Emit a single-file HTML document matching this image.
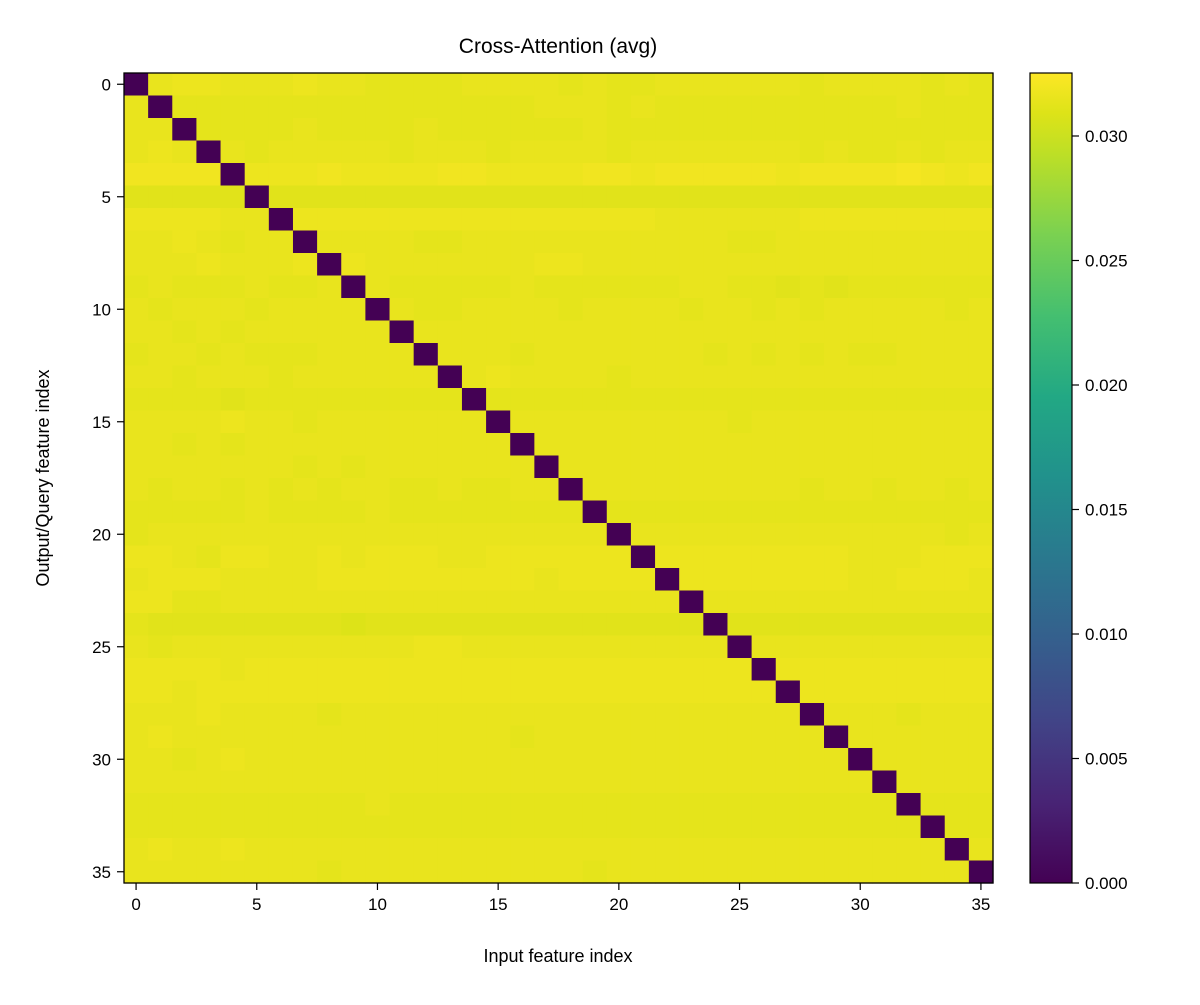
<!DOCTYPE html>
<html><head><meta charset="utf-8"><style>
body{margin:0;background:#fff;}
svg text{font-family:"Liberation Sans","DejaVu Sans",sans-serif;fill:#000;}
</style></head><body>
<svg id="chart" width="1200" height="1000" viewBox="0 0 1200 1000" xmlns="http://www.w3.org/2000/svg">
<rect width="1200" height="1000" fill="#fff"/>
<text x="558" y="53" font-size="21" text-anchor="middle">Cross-Attention (avg)</text>
<g id="cells"></g>
<rect x="124" y="73" width="869" height="810" fill="none" stroke="#000" stroke-width="1.3"/>
<g id="xticks"></g><g id="yticks"></g>
<text x="558" y="962" font-size="18" text-anchor="middle">Input feature index</text>
<text transform="translate(49,478) rotate(-90)" font-size="18" text-anchor="middle">Output/Query feature index</text>
<defs><linearGradient id="vir" x1="0" y1="1" x2="0" y2="0"></linearGradient></defs>
<rect x="1030" y="73" width="42" height="810" fill="url(#vir)" stroke="#000" stroke-width="1.2"/>
<g id="cticks"></g>
</svg>
<script>
const rowsData=[
"-67766676655556666565566666656666565",
"6-5555555555555556665655555555556555",
"66-555565555655555565555555555555555",
"676-65666665666566665666666656556566",
"8888-7778777788777788788888788889878",
"44444-444444444444444444444444444444",
"777766-77777777777777766666677777777",
"6676566-6666556666666666655666666666",
"66676667-766666667766666666666666666",
"565556556-65555565555556655454555555",
"6566656666-6556666566665665656666656",
"66565666666-666666666666666666666666",
"566565556666-66656666666565656556666",
"6656665666666-6766665666666666666666",
"55554555555555-555555555555555555555",
"666676656666666-66666666656666666666",
"6656566666666666-6666666666666666666",
"66666665656666666-666666666666666666",
"656656565665565566-66666666656656656",
"5555565555655555555-5555555555555555",
"56666666666666666666-666666666666656",
"776577667677766777777-77777777666777",
"6777666677777777767777-7777777667776",
"77556666666666666666666-666666666666",
"544444444344444444444444-44444444444",
"6566666666667766666666666-6666666666",
"77776777777777777777777777-777777777",
"776777777777777777777777777-77777777",
"6667666656666666666666666666-6665666",
"67666666666666665666666666666-666666",
"665676666666666666666666666666-66666",
"6666666666666666666666666666666-6666",
"55555555556555555555555555555555-555",
"555555555555555555555555555555555-55",
"6766766666666666666666666666666666-6",
"66666666566666666665666666666666666-"
];
const xTickLabels=[0,5,10,15,20,25,30,35];
const yTickLabels=[0,5,10,15,20,25,30,35];
const cbTickValues=[0,0.005,0.010,0.015,0.020,0.025,0.030];
const cbTickLabels=["0.000","0.005","0.010","0.015","0.020","0.025","0.030"];
const vmin=0, vmax=0.03253;
const values=rowsData.map(s=>s.split('').map(c=>c==='-'?0:0.0303+parseInt(c)*0.0002));
const N=36, X0=124, Y0=73, W=869, H=810;
const cw=W/N, ch=H/N;
const xs=i=>X0+i*cw, ys=j=>Y0+j*ch;
const stops=[[0,[68,1,84]],[0.1,[72,36,117]],[0.2,[65,68,135]],[0.3,[53,95,141]],[0.4,[42,120,142]],[0.5,[33,145,140]],[0.6,[34,168,132]],[0.7,[68,191,112]],[0.8,[122,209,81]],[0.9,[189,223,38]],[0.95,[221,227,24]],[1,[253,231,37]]];
function vir(t){t=Math.max(0,Math.min(1,t));for(let k=1;k<stops.length;k++){if(t<=stops[k][0]){const a=stops[k-1],b=stops[k],f=(t-a[0])/(b[0]-a[0]);return 'rgb('+a[1].map((v,i)=>Math.round(v+(b[1][i]-v)*f)).join(',')+')';}}return 'rgb(253,231,37)';}
const NS='http://www.w3.org/2000/svg';
function mk(tag,attrs,parent){const e=document.createElementNS(NS,tag);for(const k in attrs)e.setAttribute(k,attrs[k]);parent.appendChild(e);return e;}
const cells=document.getElementById('cells');
values.forEach((row,j)=>row.forEach((v,i)=>{
 const r=mk('rect',{x:xs(i),y:ys(j),width:cw+0.6,height:ch+0.6,fill:vir((v-vmin)/(vmax-vmin))},cells);
 
 
}));
const xt=document.getElementById('xticks');
xTickLabels.forEach(v=>{const x=xs(v+0.5);
 const l=mk('line',{x1:x,x2:x,y1:883,y2:890,stroke:'#000','stroke-width':1.2},xt);
 
 
 const t=mk('text',{x:x,y:910,'font-size':17,'text-anchor':'middle'},xt);t.textContent=v;
 
 
});
const yt=document.getElementById('yticks');
yTickLabels.forEach(v=>{const y=ys(v+0.5);
 const l=mk('line',{x1:117,x2:124,y1:y,y2:y,stroke:'#000','stroke-width':1.2},yt);
 
 
 const t=mk('text',{x:111,y:y+6,'font-size':17,'text-anchor':'end'},yt);t.textContent=v;
 
 
});
const g=document.getElementById('vir');
stops.forEach(s=>{mk('stop',{offset:s[0],'stop-color':'rgb('+s[1].join(',')+')'},g);});
const ct=document.getElementById('cticks');
cbTickValues.forEach((v,k)=>{const y=883-(v-vmin)/(vmax-vmin)*810;
 const l=mk('line',{x1:1072,x2:1079,y1:y,y2:y,stroke:'#000','stroke-width':1.2},ct);
 
 
 const t=mk('text',{x:1085,y:y+6,'font-size':17},ct);t.textContent=cbTickLabels[k];
 
 
});
</script>
</body></html>
